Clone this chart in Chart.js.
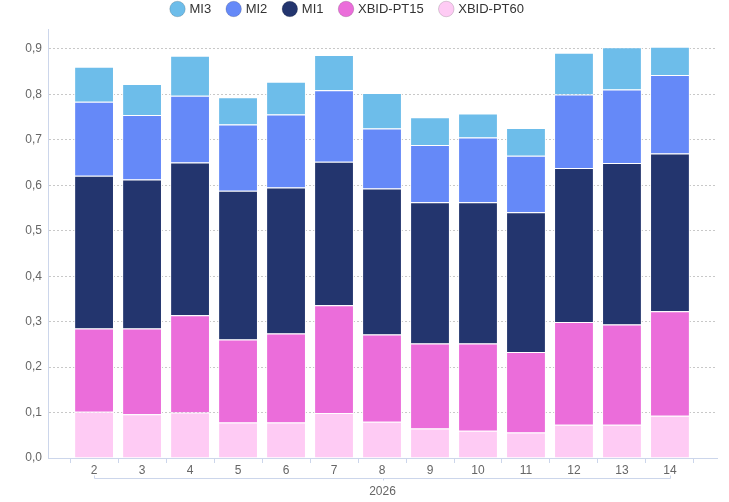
<!DOCTYPE html>
<html>
<head>
<meta charset="utf-8">
<script src="https://cdn.jsdelivr.net/npm/chart.js@4/dist/chart.umd.min.js"></script>
<style>
    html, body { margin: 0; padding: 0; background: #fff; }
    #wrap { width: 729px; height: 502px; }
</style>
</head>
<body>
<div id="wrap"><canvas id="mix-chart"></canvas></div>
<script>
"use strict";

// weeks on the x axis, grouped under one year
var weeks = [2, 3, 4, 5, 6, 7, 8, 9, 10, 11, 12, 13, 14];
var yearLabel = '2026';
var yTicks = [0, 0.1, 0.2, 0.3, 0.4, 0.5, 0.6, 0.7, 0.8, 0.9];

// stacked from the bottom up
var xbidPt60 = [0.102, 0.096, 0.100, 0.078, 0.078, 0.099, 0.080, 0.065, 0.060, 0.056, 0.073, 0.073, 0.093];
var xbidPt15 = [0.183, 0.189, 0.214, 0.183, 0.196, 0.237, 0.192, 0.187, 0.192, 0.177, 0.226, 0.221, 0.230];
var mi1 = [0.336, 0.328, 0.336, 0.327, 0.321, 0.316, 0.321, 0.311, 0.311, 0.308, 0.339, 0.355, 0.347];
var mi2 = [0.163, 0.142, 0.147, 0.146, 0.161, 0.157, 0.132, 0.126, 0.142, 0.124, 0.162, 0.162, 0.173];
var mi3 = [0.077, 0.068, 0.088, 0.060, 0.072, 0.078, 0.078, 0.061, 0.053, 0.061, 0.092, 0.093, 0.062];

var axisColor = '#ccd6eb';
var textColor = '#666666';

function bars(label, data, color) {
    return {
        label: label,
        data: data,
        backgroundColor: color,
        borderColor: '#ffffff',
        borderWidth: 1,
        barPercentage: 0.83,
        categoryPercentage: 1
    };
}

// bracket under the week labels for the year group
var yearBracket = {
    id: 'yearBracket',
    afterDraw: function (chart) {
        var x = chart.scales.x;
        var ctx = chart.ctx;
        var x1 = Math.round(x.getPixelForValue(weeks[0])) + 0.5;
        var x2 = Math.round(x.getPixelForValue(weeks[weeks.length - 1])) + 0.5;
        var y = 478.5;
        var mid = Math.round((x.left + x.right) / 2) + 0.5;
        ctx.save();
        ctx.strokeStyle = axisColor;
        ctx.lineWidth = 1;
        ctx.beginPath();
        ctx.moveTo(x1, y - 3);
        ctx.lineTo(x1, y);
        ctx.lineTo(x2, y);
        ctx.lineTo(x2, y - 3);
        ctx.moveTo(mid, y);
        ctx.lineTo(mid, y + 2);
        ctx.stroke();
        ctx.restore();
    }
};

Chart.defaults.font.family = 'Arial, "Liberation Sans", Helvetica, sans-serif';
Chart.defaults.color = textColor;

var chartConfig = {
    type: 'bar',
    data: {
        labels: weeks,
        datasets: [
            bars('XBID-PT60', xbidPt60, '#fecbf4'),
            bars('XBID-PT15', xbidPt15, '#eb6dda'),
            bars('MI1', mi1, '#23356e'),
            bars('MI2', mi2, '#6589f8'),
            bars('MI3', mi3, '#6dbdea')
        ]
    },
    options: {
        responsive: true,
        maintainAspectRatio: false,
        devicePixelRatio: 1,
        animation: false,
        // negative left padding moves the legend centre left, the y axis box makes up for it
        layout: { padding: { left: -21, right: 12, top: -14.5, bottom: 0 } },
        plugins: {
            tooltip: { enabled: false },
            legend: {
                position: 'top',
                reverse: true,
                labels: {
                    usePointStyle: true,
                    pointStyle: 'circle',
                    boxWidth: 11,
                    boxHeight: 11,
                    padding: 17,
                    color: '#333333',
                    font: { size: 13 },
                    generateLabels: function (chart) {
                        var items = Chart.defaults.plugins.legend.labels.generateLabels(chart);
                        items.forEach(function (it) {
                            it.strokeStyle = 'rgba(0,0,0,0.15)';
                            it.lineWidth = 1;
                        });
                        return items;
                    }
                }
            }
        },
        scales: {
            x: {
                type: 'linear',
                stacked: true,
                offset: false,
                min: 1.04,
                max: 14.98,
                afterBuildTicks: function (scale) {
                    scale.ticks = weeks.map(function (w) { return { value: w }; });
                },
                afterFit: function (scale) {
                    scale.height = 44;
                },
                grid: {
                    offset: true,
                    drawOnChartArea: false,
                    drawTicks: true,
                    tickLength: 5,
                    tickColor: axisColor
                },
                border: { display: true, color: axisColor, width: 1 },
                ticks: {
                    padding: 0,
                    color: textColor,
                    font: { size: 12 },
                    callback: function (v) { return String(v); }
                },
                title: {
                    display: true,
                    text: yearLabel,
                    color: textColor,
                    font: { size: 12 },
                    padding: { top: 0, bottom: 3 }
                }
            },
            // empty strip that keeps the plot top below the legend
            xTop: {
                type: 'linear',
                position: 'top',
                display: true,
                afterFit: function (scale) {
                    scale.height = 3.5;
                },
                grid: { display: false },
                border: { display: false },
                ticks: { display: false }
            },
            y: {
                stacked: true,
                min: 0,
                max: 0.944,
                afterBuildTicks: function (scale) {
                    scale.ticks = yTicks.map(function (v) { return { value: v }; });
                },
                afterFit: function (scale) {
                    scale.width = 69;
                },
                grid: {
                    color: '#c8c8c8',
                    drawTicks: false,
                    lineWidth: 1
                },
                border: { display: true, color: axisColor, width: 1, dash: [2, 2] },
                ticks: {
                    padding: 6,
                    color: textColor,
                    font: { size: 12 },
                    callback: function (v) { return v.toFixed(1).replace('.', ','); }
                }
            }
        }
    },
    plugins: [yearBracket]
};

var mixChart = new Chart(document.getElementById('mix-chart'), chartConfig);
</script>
</body>
</html>
